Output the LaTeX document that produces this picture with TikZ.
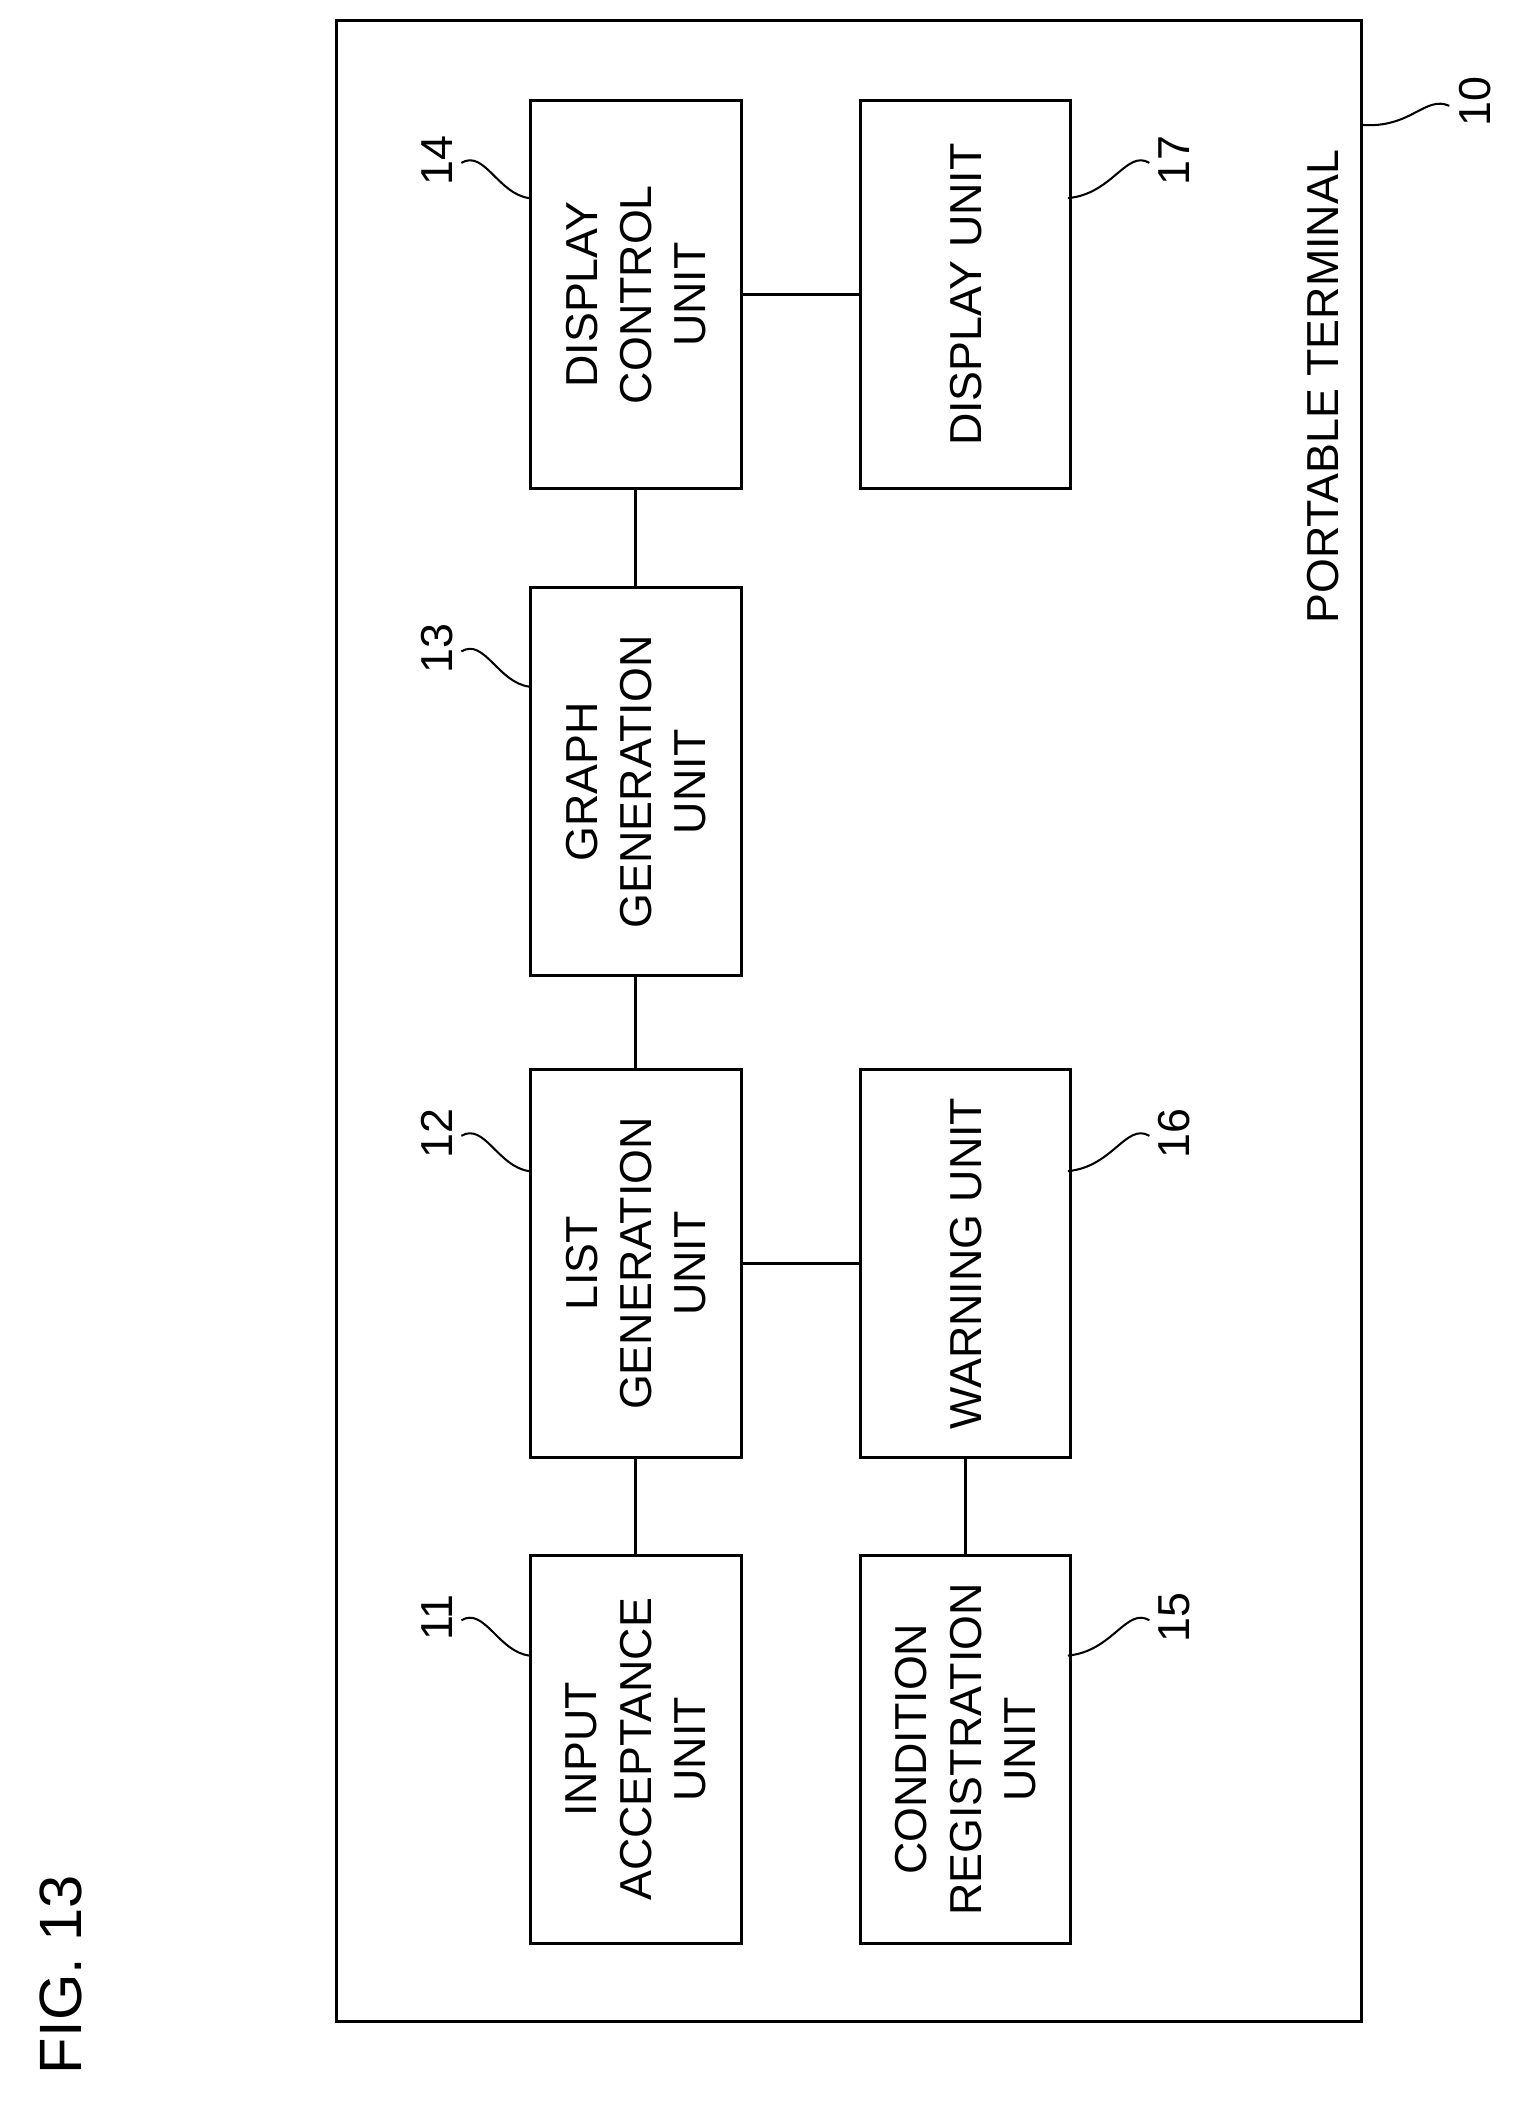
\documentclass[tikz,border=0pt]{standalone}
\usepackage{fontspec}
\setmainfont{Liberation Sans}
\begin{document}
\begin{tikzpicture}[x=1pt,y=-1pt,line width=2.2pt,
 box/.style={draw,minimum width=155pt,minimum height=286pt,anchor=north west,inner sep=0pt},
 txt/.style={rotate=90,align=center,font=\fontsize{33}{40}\selectfont},
 num/.style={rotate=90,font=\fontsize{33}{40}\selectfont}]
\useasboundingbox (0,0) rectangle (1115,1563);
\draw (248,15) rectangle (1003,1490);
\node[box] (b14) at (390,73) {}; \node[txt] at (b14.center) {DISPLAY\\CONTROL\\UNIT};
\node[box] (b17) at (633,73) {}; \node[txt] at (b17.center) {DISPLAY UNIT};
\node[box] (b13) at (390,432) {}; \node[txt] at (b13.center) {GRAPH\\GENERATION\\UNIT};
\node[box] (b12) at (390,787) {}; \node[txt] at (b12.center) {LIST\\GENERATION\\UNIT};
\node[box] (b16) at (633,787) {}; \node[txt] at (b16.center) {WARNING UNIT};
\node[box] (b11) at (390,1145) {}; \node[txt] at (b11.center) {INPUT\\ACCEPTANCE\\UNIT};
\node[box] (b15) at (633,1145) {}; \node[txt] at (b15.center) {CONDITION\\REGISTRATION\\UNIT};
\draw (b14.south) -- (b13.north);
\draw (b13.south) -- (b12.north);
\draw (b12.south) -- (b11.north);
\draw (b16.south) -- (b15.north);
\draw (b14.east) -- (b17.west);
\draw (b12.east) -- (b16.west);
\node[txt] (pt) at (975,285) {PORTABLE TERMINAL};
\node[txt,font=\fontsize{44}{50}\selectfont] (fig) at (45,1455) {FIG. 13};
\foreach \n/\x/\y/\bx in {14/322/118/390,13/322/478/390,12/322/835/390,11/322/1192/390}{
 \node[num] at (\x,\y) {\n};
 \draw[line width=1.5pt] (\x+18,\y+2) .. controls (\x+35,\y-8) and (\x+45,\y+25) .. (\bx,\y+28);}
\foreach \n/\x/\y/\bx in {17/865/118/787,16/865/835/787,15/865/1192/787}{
 \node[num] at (\x,\y) {\n};
 \draw[line width=1.5pt] (\x-18,\y+2) .. controls (\x-35,\y-8) and (\x-45,\y+25) .. (\bx,\y+28);}
\node[num] at (1087,75) {10};
\draw[line width=1.5pt] (1068,78) .. controls (1050,70) and (1040,95) .. (1003,92);
\end{tikzpicture}
\end{document}
